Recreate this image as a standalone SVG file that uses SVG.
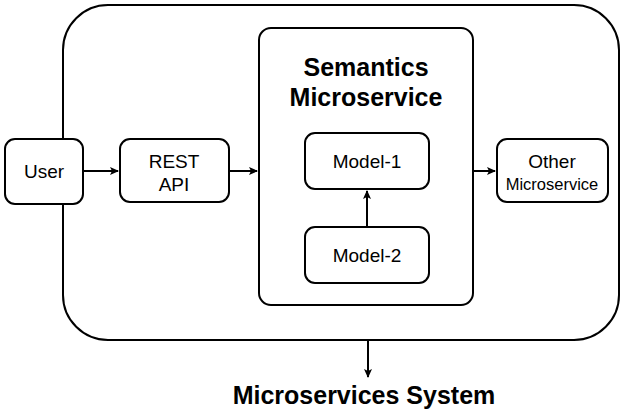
<svg xmlns="http://www.w3.org/2000/svg" width="624" height="417" viewBox="0 0 624 417">
<style>
.b{fill:#fff;stroke:#000;stroke-width:2}
.t{font-family:"Liberation Sans",Arial,sans-serif;font-size:19px;text-anchor:middle;fill:#000}
.bt{font-family:"Liberation Sans",Arial,sans-serif;font-weight:bold;font-size:25px;text-anchor:middle;fill:#000}
.c{stroke:#000;stroke-width:2;fill:none;marker-end:url(#a)}
</style>
<defs><marker id="a" markerWidth="10" markerHeight="10" refX="8" refY="5" orient="auto" markerUnits="userSpaceOnUse"><path d="M0,1 L9,5 L0,9 L2,5 Z" fill="#000"/></marker></defs>
<rect width="624" height="417" fill="#fff"/>
<g id="system"><rect class="b" x="63" y="5" width="556" height="335" rx="45"/></g>
<g id="semantics"><rect class="b" x="259" y="28" width="214" height="277" rx="12"/><text class="bt" x="366" y="76">Semantics</text><text class="bt" x="366" y="106">Microservice</text></g>
<g id="user"><rect class="b" x="5" y="139" width="78" height="65" rx="10"/><text class="t" x="44" y="178">User</text></g>
<g id="rest"><rect class="b" x="120" y="139" width="109" height="63" rx="10"/><text class="t" x="174" y="168">REST</text><text class="t" x="174" y="191">API</text></g>
<g id="model1"><rect class="b" x="305" y="133" width="124" height="56" rx="10"/><text class="t" x="367" y="168">Model-1</text></g>
<g id="model2"><rect class="b" x="305" y="227" width="124" height="56" rx="10"/><text class="t" x="367" y="262">Model-2</text></g>
<g id="other"><rect class="b" x="497" y="139" width="111" height="63" rx="10"/><text class="t" x="552" y="168">Other</text><text class="t" x="552" y="190" style="font-size:16.5px">Microservice</text></g>
<g id="connectors">
<line class="c" x1="83" y1="171" x2="118" y2="171"/>
<line class="c" x1="229" y1="171" x2="257" y2="171"/>
<line class="c" x1="473" y1="171" x2="495" y2="171"/>
<line class="c" x1="367" y1="227" x2="367" y2="191"/>
<line class="c" x1="368" y1="340" x2="368" y2="377"/>
</g>
<text class="bt" x="364" y="404">Microservices System</text>
</svg>
